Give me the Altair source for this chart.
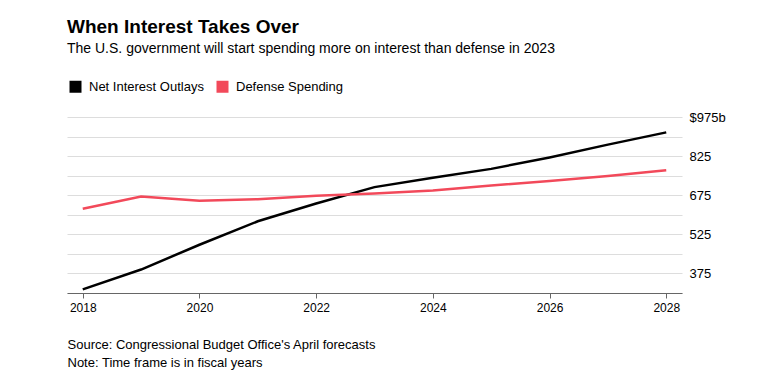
import altair as alt
import pandas as pd

years = [2018, 2019, 2020, 2021, 2022, 2023, 2024, 2025, 2026, 2027, 2028]
net_interest = [314, 390, 485, 575, 643, 706, 742, 776, 820, 869, 916]
defense = [623, 670, 654, 660, 673, 682, 693, 712, 730, 749, 771]
series_names = ["Net Interest Outlays", "Defense Spending"]
series_colors = ["#000000", "#f2495a"]
x_ticks = [2018, 2020, 2022, 2024, 2026, 2028]
y_grid = [300, 375, 450, 525, 600, 675, 750, 825, 900, 975]

rows = []
for y, a, b in zip(years, net_interest, defense):
    rows.append({"year": y, "value": a, "series": series_names[0]})
    rows.append({"year": y, "value": b, "series": series_names[1]})
df = pd.DataFrame(rows)

FONT = "Liberation Sans"

chart = alt.Chart(df).mark_line(strokeWidth=2.5).encode(
    x=alt.X("year:Q",
            scale=alt.Scale(domain=[2017.73, 2028.27], nice=False, zero=False),
            axis=alt.Axis(values=x_ticks, format="d", grid=False, tickSize=5,
                          tickColor="#666666", domainColor="#666666",
                          labelFontSize=12, labelColor="#000000", labelPadding=4,
                          labelFont=FONT,
                          title=["Source: Congressional Budget Office's April forecasts",
                                 "Note: Time frame is in fiscal years"],
                          titleFont=FONT, titleFontSize=13, titleFontWeight="normal",
                          titleColor="#000000", titleAnchor="start", titleAlign="left",
                          titleBaseline="top", titleX=0, titleY=45, titleLineHeight=18)),
    y=alt.Y("value:Q",
            scale=alt.Scale(domain=[300, 975], nice=False, zero=False),
            axis=alt.Axis(orient="right", values=y_grid, domain=False, ticks=False,
                          gridColor="#dddddd", gridWidth=1,
                          labelExpr="datum.value == 975 ? '$975b' : ((datum.value - 375) % 150 == 0 ? datum.label : '')",
                          labelAlign="left", labelPadding=7, labelFontSize=13,
                          labelFont=FONT, labelColor="#000000", title=None)),
    color=alt.Color("series:N",
                    scale=alt.Scale(domain=series_names, range=series_colors),
                    sort=series_names,
                    legend=alt.Legend(orient="none", legendX=2, legendY=-37,
                                      direction="horizontal", title=None,
                                      symbolType="square", symbolSize=36,
                                      symbolStrokeWidth=6, symbolOpacity=1,
                                      labelFontSize=13, labelFont=FONT,
                                      labelColor="#000000", labelOffset=7,
                                      columnPadding=3, padding=0)),
).properties(
    width=615,
    height=176,
    padding={"left": 59, "top": 109, "right": 68, "bottom": 85},
    autosize=alt.AutoSizeParams(type="none"),
    title=alt.TitleParams(
        text="When Interest Takes Over",
        subtitle="The U.S. government will start spending more on interest than defense in 2023",
        anchor="start", frame="group", offset=24,
        font=FONT, fontSize=19, fontWeight="bold", color="#000000",
        subtitleFont=FONT, subtitleFontSize=14, subtitleColor="#000000",
        subtitlePadding=5),
).configure_view(stroke=None)

chart.save("out.html", embed_options={"renderer": "svg", "actions": False})
